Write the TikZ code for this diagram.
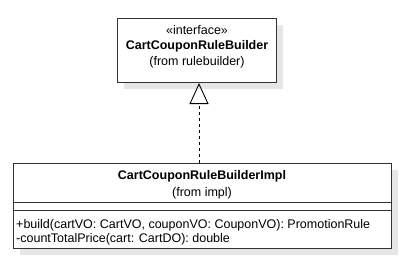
\documentclass[tikz,border=0pt]{standalone}
\usepackage{fontspec}
\setmainfont{Liberation Sans}
\usetikzlibrary{arrows.meta}
\definecolor{shadowgray}{HTML}{E6E6E6}
\definecolor{linegray}{HTML}{333333}
\begin{document}
\begin{tikzpicture}[x=1pt,y=-1pt,
  boxline/.style={draw=linegray,line width=1pt},
  txt/.style={inner sep=0pt,font=\fontsize{12.5}{14}\selectfont},
  btxt/.style={inner sep=0pt,font=\fontsize{12.5}{14}\selectfont\bfseries},
  realize/.style={draw=black,line width=0.9pt,dash pattern=on 3pt off 3pt,
     -{Triangle[open,length=21pt,width=19pt,line width=0.9pt]}}]
\useasboundingbox (0,0) rectangle (415,265);
% top box
\fill[shadowgray] (124,25) rectangle (283,89);
\node[boxline,fill=white,minimum width=159pt,minimum height=64pt,inner sep=0pt,anchor=north west] (iface) at (117,18) {};
\node[txt] (st) at (197,30) {«interface»};
\node[btxt] (n1) at (197,46) {CartCouponRuleBuilder};
\node[txt] (f1) at (197,62) {(from rulebuilder)};
% bottom box
\fill[shadowgray] (20,170) rectangle (398,255);
\node[boxline,fill=white,minimum width=378pt,minimum height=85pt,inner sep=0pt,anchor=north west] (impl) at (13,163) {};
\draw[boxline] (impl.west |- 0,202) coordinate (s1a) -- (impl.east |- 0,202) coordinate (s1b);
\draw[boxline] (impl.west |- 0,210) coordinate (s2a) -- (impl.east |- 0,210) coordinate (s2b);
\node[btxt] (n2) at (202,176) {CartCouponRuleBuilderImpl};
\node[txt] (f2) at (202,193) {(from impl)};
\node[txt,anchor=west] (m1) at (16,225) {+build(cartVO: CartVO, couponVO: CouponVO): PromotionRule};
\node[txt,anchor=west] (m2) at (16,239) {-countTotalPrice(cart: CartDO): double};
% realization
\draw[realize] (impl.north -| 199,0) -- (iface.south -| 199,0);
\end{tikzpicture}
\end{document}
